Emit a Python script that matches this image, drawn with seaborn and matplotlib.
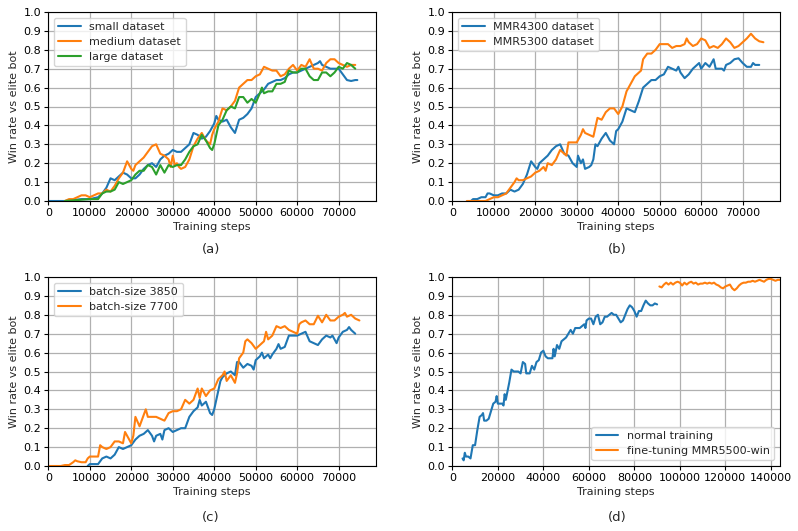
import numpy as np
import pandas as pd
import matplotlib
matplotlib.use("Agg")
import matplotlib.pyplot as plt
import seaborn as sns

# ---------------- data ----------------
# panel (a)
a_small_x = [0, 4000, 6000, 8000, 10000, 12000, 13000, 14000, 15000, 16000, 17000, 18000, 19000, 20000,
             21000, 22000, 23000, 24000, 25000, 26000, 27000, 28000, 29000, 30000, 31000, 32000, 33000,
             34000, 35000, 36000, 37000, 38000, 39000, 40000, 40500, 41000, 42000, 43000, 44000, 45000,
             46000, 47000, 48000, 49000, 50000, 51000, 52000, 53000, 54000, 55000, 56000, 57000, 58000,
             59000, 60000, 61000, 62000, 63000, 64000, 65000, 65500, 66000, 67000, 68000, 69000, 70000,
             71000, 72000, 73000, 74000, 74500]
a_small_y = [0.0, 0.0, 0.005, 0.01, 0.01, 0.02, 0.04, 0.07, 0.12, 0.11, 0.13, 0.15, 0.14, 0.12,
             0.12, 0.14, 0.17, 0.19, 0.20, 0.18, 0.22, 0.24, 0.25, 0.27, 0.26, 0.26, 0.28,
             0.30, 0.36, 0.35, 0.33, 0.34, 0.37, 0.41, 0.45, 0.43, 0.42, 0.43, 0.39, 0.36,
             0.43, 0.44, 0.46, 0.49, 0.55, 0.57, 0.59, 0.62, 0.63, 0.64, 0.64, 0.65, 0.67,
             0.68, 0.68, 0.69, 0.70, 0.71, 0.72, 0.73, 0.74, 0.72, 0.71, 0.70, 0.70, 0.70,
             0.67, 0.64, 0.635, 0.64, 0.64]
a_medium_x = [4000, 5000, 6000, 7000, 8000, 9000, 10000, 11000, 12000, 13000, 14000, 15000, 16000,
              17000, 18000, 19000, 20000, 20500, 21000, 22000, 23000, 24000, 25000, 26000, 27000,
              28000, 29000, 29500, 30000, 30500, 31000, 31500, 32000, 33000, 34000, 35000, 36000,
              37000, 38000, 39000, 39500, 40000, 41000, 42000, 43000, 44000, 45000, 46000, 47000,
              48000, 49000, 50000, 51000, 52000, 53000, 54000, 55000, 56000, 57000, 58000, 59000,
              60000, 61000, 62000, 63000, 64000, 65000, 66000, 67000, 68000, 69000, 70000, 71000,
              72000, 73000, 74000]
a_medium_y = [0.0, 0.01, 0.01, 0.02, 0.03, 0.03, 0.02, 0.03, 0.04, 0.04, 0.06, 0.05, 0.08,
              0.12, 0.15, 0.21, 0.17, 0.16, 0.19, 0.21, 0.23, 0.26, 0.29, 0.30, 0.25,
              0.24, 0.22, 0.18, 0.24, 0.19, 0.20, 0.18, 0.17, 0.18, 0.22, 0.29, 0.33,
              0.36, 0.32, 0.30, 0.35, 0.38, 0.42, 0.49, 0.48, 0.50, 0.53, 0.60, 0.62,
              0.64, 0.64, 0.66, 0.67, 0.71, 0.70, 0.69, 0.69, 0.66, 0.67, 0.70, 0.72,
              0.69, 0.72, 0.71, 0.75, 0.70, 0.70, 0.69, 0.73, 0.75, 0.75, 0.73, 0.72,
              0.71, 0.72, 0.72]
a_large_x = [4000, 7000, 10000, 11000, 12000, 13000, 14000, 15000, 16000, 17000, 18000, 19000, 20000,
             21000, 22000, 23000, 24000, 25000, 26000, 27000, 28000, 29000, 30000, 31000, 32000,
             33000, 34000, 35000, 36000, 37000, 38000, 39000, 39500, 40000, 41000, 42000, 43000,
             44000, 45000, 46000, 47000, 48000, 49000, 50000, 51000, 51500, 52000, 53000, 54000,
             55000, 56000, 57000, 58000, 59000, 60000, 61000, 62000, 63000, 64000, 65000, 66000,
             67000, 68000, 69000, 70000, 71000, 72000, 73000, 74000]
a_large_y = [0.0, 0.005, 0.01, 0.01, 0.01, 0.04, 0.05, 0.05, 0.06, 0.10, 0.09, 0.10, 0.11,
             0.14, 0.16, 0.16, 0.19, 0.18, 0.14, 0.19, 0.15, 0.19, 0.18, 0.19, 0.19,
             0.22, 0.26, 0.29, 0.30, 0.35, 0.32, 0.28, 0.27, 0.30, 0.40, 0.43, 0.48,
             0.50, 0.49, 0.55, 0.55, 0.52, 0.54, 0.52, 0.57, 0.60, 0.57, 0.58, 0.58,
             0.62, 0.62, 0.63, 0.69, 0.68, 0.68, 0.70, 0.70, 0.66, 0.64, 0.64, 0.68,
             0.68, 0.66, 0.68, 0.71, 0.70, 0.73, 0.72, 0.70]

# panel (b)
b_4300_x = [4500, 5000, 6000, 7000, 8000, 8500, 9000, 10000, 11000, 12000, 13000, 14000, 15000,
            16000, 17000, 18000, 19000, 20000, 20500, 21000, 22000, 23000, 24000, 25000, 26000,
            27000, 28000, 29000, 30000, 30300, 31000, 31500, 32000, 33000, 33500, 34000, 34500,
            35000, 36000, 37000, 38000, 39000, 39500, 40000, 41000, 42000, 43000, 44000, 45000,
            46000, 47000, 48000, 49000, 50000, 51000, 52000, 53000, 54000, 54500, 55000, 56000,
            57000, 58000, 59000, 59500, 60000, 61000, 62000, 63000, 63500, 64000, 65000, 65500,
            66000, 67000, 68000, 69000, 70000, 71000, 72000, 72500, 73000, 74000]
b_4300_y = [0.0, 0.01, 0.01, 0.02, 0.02, 0.04, 0.04, 0.03, 0.03, 0.04, 0.04, 0.06, 0.05,
            0.06, 0.09, 0.14, 0.21, 0.18, 0.17, 0.20, 0.22, 0.24, 0.27, 0.29, 0.30,
            0.25, 0.24, 0.20, 0.18, 0.24, 0.20, 0.22, 0.17, 0.18, 0.19, 0.22, 0.30,
            0.29, 0.33, 0.36, 0.32, 0.30, 0.37, 0.38, 0.42, 0.49, 0.48, 0.47, 0.53,
            0.60, 0.62, 0.64, 0.64, 0.66, 0.67, 0.71, 0.70, 0.69, 0.71, 0.68, 0.65,
            0.67, 0.70, 0.72, 0.73, 0.70, 0.73, 0.71, 0.75, 0.70, 0.70, 0.70, 0.69,
            0.72, 0.73, 0.75, 0.755, 0.73, 0.71, 0.71, 0.73, 0.72, 0.72]
b_5300_x = [3500, 8000, 9000, 10000, 11000, 12000, 13000, 14000, 15000, 15500, 16000, 17000, 18000,
            19000, 20000, 21000, 22000, 22500, 23000, 24000, 25000, 26000, 27000, 27500, 28000,
            29000, 30000, 31000, 31500, 32000, 33000, 34000, 35000, 36000, 37000, 38000, 39000,
            40000, 41000, 42000, 43000, 44000, 45000, 45500, 46000, 47000, 48000, 49000, 50000,
            51000, 52000, 53000, 54000, 55000, 56000, 56500, 57000, 58000, 59000, 60000, 61000,
            62000, 63000, 64000, 65000, 66000, 67000, 68000, 69000, 70000, 71000, 72000, 73000,
            74000, 75000]
b_5300_y = [0.0, 0.0, 0.01, 0.02, 0.02, 0.03, 0.04, 0.07, 0.10, 0.12, 0.11, 0.11, 0.12,
            0.13, 0.15, 0.16, 0.18, 0.16, 0.20, 0.19, 0.22, 0.27, 0.25, 0.24, 0.31,
            0.31, 0.31, 0.35, 0.38, 0.36, 0.35, 0.34, 0.44, 0.43, 0.47, 0.49, 0.49,
            0.46, 0.50, 0.58, 0.62, 0.66, 0.68, 0.69, 0.75, 0.78, 0.78, 0.80, 0.83,
            0.83, 0.83, 0.81, 0.82, 0.82, 0.83, 0.86, 0.84, 0.82, 0.83, 0.86, 0.85,
            0.81, 0.82, 0.81, 0.83, 0.86, 0.84, 0.81, 0.82, 0.84, 0.86, 0.885, 0.86,
            0.845, 0.84]

# panel (c)
c_3850_x = [9500, 10000, 11000, 12000, 13000, 14000, 15000, 16000, 17000, 18000, 19000, 20000,
            21000, 22000, 23000, 24000, 25000, 25500, 26000, 27000, 27500, 28000, 29000, 30000,
            31000, 32000, 33000, 34000, 35000, 36000, 36500, 37000, 38000, 39000, 39500, 40000,
            41000, 41500, 42000, 43000, 44000, 45000, 45500, 46000, 47000, 48000, 49000, 49500,
            50000, 51000, 51500, 52000, 53000, 53500, 54000, 55000, 55500, 56000, 57000, 58000,
            59000, 60000, 61000, 62000, 63000, 64000, 65000, 66000, 67000, 68000, 68500, 69500,
            70000, 71000, 72000, 72500, 73000, 74000]
c_3850_y = [0.0, 0.01, 0.01, 0.01, 0.04, 0.05, 0.04, 0.06, 0.10, 0.09, 0.10, 0.11,
            0.14, 0.16, 0.17, 0.19, 0.16, 0.13, 0.16, 0.17, 0.14, 0.19, 0.20, 0.18,
            0.19, 0.20, 0.20, 0.26, 0.29, 0.31, 0.35, 0.32, 0.34, 0.28, 0.27, 0.30,
            0.40, 0.45, 0.47, 0.49, 0.50, 0.48, 0.55, 0.55, 0.52, 0.54, 0.53, 0.51,
            0.56, 0.58, 0.60, 0.57, 0.59, 0.57, 0.59, 0.62, 0.645, 0.62, 0.63, 0.69,
            0.69, 0.69, 0.70, 0.71, 0.66, 0.65, 0.64, 0.67, 0.69, 0.68, 0.69, 0.65,
            0.68, 0.71, 0.72, 0.735, 0.72, 0.70]
c_7700_x = [0, 3000, 4000, 5000, 6000, 6500, 7000, 8000, 9000, 9500, 10000, 11000, 12000, 12500,
            13000, 14000, 15000, 16000, 17000, 18000, 18500, 19000, 20000, 20500, 21000, 22000,
            23000, 23500, 24000, 25000, 26000, 27000, 28000, 29000, 30000, 31000, 32000, 33000,
            34000, 35000, 36000, 36500, 37000, 38000, 39000, 40000, 41000, 42000, 42500, 43000,
            44000, 45000, 45500, 46000, 47000, 47500, 48000, 49000, 50000, 51000, 52000, 52500,
            53000, 54000, 55000, 56000, 57000, 58000, 59000, 60000, 60500, 61000, 62000, 63000,
            64000, 65000, 66000, 67000, 68000, 69000, 70000, 71000, 71500, 72000, 73000, 74000, 75000]
c_7700_y = [0.0, 0.0, 0.005, 0.005, 0.02, 0.03, 0.025, 0.02, 0.02, 0.04, 0.05, 0.05, 0.05, 0.11,
            0.10, 0.09, 0.10, 0.13, 0.13, 0.12, 0.18, 0.16, 0.12, 0.16, 0.26, 0.21,
            0.27, 0.30, 0.26, 0.26, 0.26, 0.25, 0.24, 0.28, 0.29, 0.29, 0.30, 0.35,
            0.33, 0.35, 0.41, 0.36, 0.41, 0.37, 0.40, 0.41, 0.46, 0.48, 0.50, 0.45,
            0.48, 0.44, 0.49, 0.57, 0.60, 0.66, 0.67, 0.65, 0.62, 0.64, 0.66, 0.71,
            0.67, 0.69, 0.74, 0.73, 0.74, 0.72, 0.71, 0.70, 0.75, 0.76, 0.77, 0.75,
            0.75, 0.795, 0.76, 0.80, 0.77, 0.77, 0.79, 0.80, 0.81, 0.79, 0.80, 0.78, 0.77]

# panel (d)
d_normal_x = [4500, 5000, 5500, 6000, 7000, 8000, 9000, 10000, 11000, 12000, 13000, 13500, 14000,
              15000, 16000, 17000, 18000, 19000, 19500, 20000, 21000, 22000, 22500, 23000, 23500,
              24000, 25000, 26000, 27000, 28000, 29000, 30000, 31000, 32000, 32500, 33000, 34000,
              35000, 36000, 37000, 38000, 39000, 40000, 41000, 42000, 43000, 44000, 44500, 45000,
              46000, 47000, 48000, 49000, 50000, 51000, 52000, 53000, 54000, 55000, 56000, 57000,
              58000, 58500, 59000, 60000, 61000, 62000, 63000, 64000, 65000, 66000, 67000, 68000,
              69000, 70000, 71000, 72000, 73000, 74000, 75000, 76000, 77000, 78000, 79000, 80000,
              81000, 82000, 83000, 84000, 85000, 86000, 87000, 88000, 89000, 90000]
d_normal_y = [0.04, 0.03, 0.07, 0.05, 0.05, 0.04, 0.11, 0.11, 0.19, 0.26, 0.27, 0.28, 0.24,
              0.24, 0.25, 0.29, 0.33, 0.34, 0.37, 0.33, 0.33, 0.33, 0.32, 0.38, 0.35,
              0.38, 0.44, 0.51, 0.50, 0.50, 0.50, 0.49, 0.55, 0.54, 0.49, 0.49, 0.49,
              0.53, 0.51, 0.55, 0.56, 0.60, 0.61, 0.58, 0.57, 0.57, 0.57, 0.62, 0.58,
              0.64, 0.62, 0.66, 0.67, 0.68, 0.70, 0.72, 0.70, 0.73, 0.73, 0.73, 0.74,
              0.75, 0.73, 0.77, 0.78, 0.78, 0.75, 0.79, 0.80, 0.75, 0.76, 0.79, 0.79,
              0.80, 0.81, 0.80, 0.80, 0.78, 0.76, 0.77, 0.80, 0.83, 0.85, 0.84, 0.82,
              0.79, 0.82, 0.82, 0.85, 0.875, 0.86, 0.85, 0.85, 0.86, 0.855]
d_fine_x = [91000, 92000, 93000, 94000, 95000, 96000, 97000, 98000, 99000, 100000, 101000, 102000,
            103000, 104000, 105000, 106000, 107000, 108000, 109000, 110000, 111000, 112000, 113000,
            114000, 115000, 116000, 117000, 118000, 119000, 120000, 121000, 122000, 123000, 124000,
            125000, 126000, 127000, 128000, 129000, 130000, 131000, 132000, 133000, 134000, 135000,
            136000, 137000, 138000, 139000, 140000, 141000, 142000, 143000, 144000]
d_fine_y = [0.95, 0.945, 0.96, 0.97, 0.96, 0.97, 0.96, 0.97, 0.975, 0.97, 0.955, 0.97,
            0.96, 0.97, 0.975, 0.965, 0.97, 0.96, 0.965, 0.965, 0.97, 0.965, 0.97,
            0.965, 0.97, 0.96, 0.955, 0.945, 0.94, 0.95, 0.955, 0.96, 0.94, 0.93,
            0.94, 0.955, 0.965, 0.97, 0.97, 0.975, 0.975, 0.98, 0.975, 0.98, 0.985,
            0.98, 0.975, 0.985, 0.99, 0.99, 0.985, 0.98, 0.985, 0.985]

# ---------------- style ----------------
sns.set_style("ticks", {"axes.grid": True, "grid.color": "#b0b0b0", "axes.edgecolor": "black",
                        "xtick.color": "black", "ytick.color": "black"})
plt.rcParams["font.family"] = ["DejaVu Sans"]
FS = 8
plt.rcParams["font.size"] = FS
plt.rcParams["grid.linewidth"] = 0.9
plt.rcParams["axes.linewidth"] = 0.8

colors = sns.color_palette("tab10")

fig = plt.figure(figsize=(7.98, 5.31), dpi=100)
W, H = 798, 531


def add_ax(l, r, t, b):
    return fig.add_axes([l / W, 1 - b / H, (r - l) / W, (b - t) / H])


ax_a = add_ax(48.3, 376, 12, 201)
ax_b = add_ax(452.3, 780, 12, 201)
ax_c = add_ax(48.3, 376, 277, 466)
ax_d = add_ax(452.3, 780, 277, 466)


def draw(ax, series, xmax, xstep, loc):
    for i, (xs, ys, lab) in enumerate(series):
        df = pd.DataFrame({"x": xs, "y": ys})
        sns.lineplot(data=df, x="x", y="y", ax=ax, color=colors[i], linewidth=1.5,
                     label=lab, estimator=None, sort=False)
    ax.set_xlim(0, xmax)
    ax.set_ylim(0, 1.0)
    ax.set_yticks(np.arange(0, 1.01, 0.1))
    ax.set_yticklabels([f"{v:.1f}" for v in np.arange(0, 1.01, 0.1)])
    ax.set_xticks(np.arange(0, xmax, xstep))
    ax.set_xticklabels([str(int(v)) for v in np.arange(0, xmax, xstep)])
    ax.tick_params(labelsize=FS, length=3, width=0.8, pad=2)
    ax.set_xlabel("Training steps", fontsize=FS, labelpad=3)
    ax.set_ylabel("Win rate vs elite bot", fontsize=FS, labelpad=3)
    for s in ax.spines.values():
        s.set_visible(True)
        s.set_color("black")
    ax.legend(loc=loc, fontsize=FS, frameon=True, fancybox=True, framealpha=0.8,
              edgecolor="#cccccc", handlelength=2.0, borderpad=0.4, labelspacing=0.45)


draw(ax_a, [(a_small_x, a_small_y, "small dataset"),
            (a_medium_x, a_medium_y, "medium dataset"),
            (a_large_x, a_large_y, "large dataset")], 79000, 10000, "upper left")
draw(ax_b, [(b_4300_x, b_4300_y, "MMR4300 dataset"),
            (b_5300_x, b_5300_y, "MMR5300 dataset")], 79000, 10000, "upper left")
draw(ax_c, [(c_3850_x, c_3850_y, "batch-size 3850"),
            (c_7700_x, c_7700_y, "batch-size 7700")], 79000, 10000, "upper left")
draw(ax_d, [(d_normal_x, d_normal_y, "normal training"),
            (d_fine_x, d_fine_y, "fine-tuning MMR5500-win")], 144000, 20000, "lower right")

for lab, x, y in [("(a)", 211, 250), ("(b)", 617, 250), ("(c)", 211, 517), ("(d)", 617, 517)]:
    fig.text(x / W, 1 - y / H, lab, ha="center", va="center", fontsize=9.5)

fig.savefig("out.png", dpi=100)
